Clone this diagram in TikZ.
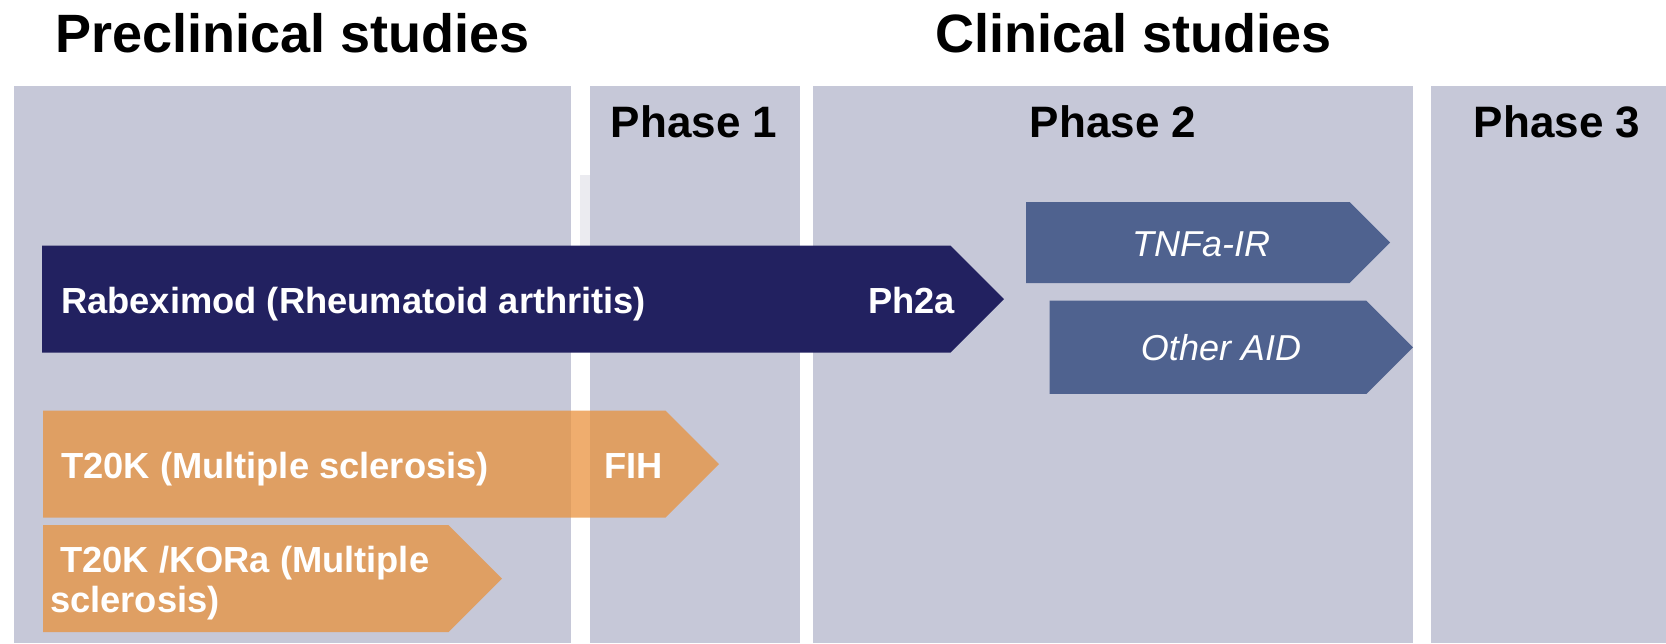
\documentclass[tikz,border=0pt]{standalone}
\usepackage{fontspec}
\setmainfont{Liberation Sans}
\usepackage{tikz}
\usetikzlibrary{positioning}
\usetikzlibrary{shapes.symbols}
\definecolor{ColorPanel}{RGB}{198,200,216}
\definecolor{ColorStrip}{RGB}{235,235,240}
\definecolor{ColorNavy}{RGB}{34,33,96}
\definecolor{ColorSteel}{RGB}{79,98,143}
\definecolor{ColorOrange}{RGB}{233,145,59}

\begin{document}
\begin{tikzpicture}[x=1pt, y=-1pt,
	panel/.style={rectangle, fill=ColorPanel, inner sep=0pt, outer sep=0pt, minimum height=557pt, anchor=north west},
	head/.style={anchor=base west, inner sep=0pt, font=\fontsize{54}{60}\selectfont\bfseries},
	phase/.style={anchor=base, inner sep=0pt, font=\fontsize{44}{50}\selectfont\bfseries},
	bar/.style={signal, signal to=east, signal pointer angle=90, inner sep=0pt, outer sep=0pt, minimum height=107pt, anchor=west},
	navy/.style={fill=ColorNavy},
	steel/.style={fill=ColorSteel},
	orange/.style={fill=ColorOrange, fill opacity=0.74},
	lab/.style={anchor=base west, inner sep=0pt, text=white, font=\fontsize{36.3}{40}\selectfont\bfseries},
	ital/.style={anchor=base, inner sep=0pt, text=white, font=\fontsize{36}{40}\selectfont\itshape}]
	\useasboundingbox (0,0) rectangle (1666,643);

	% Panels
	\node[panel, minimum width=557pt] (P0) at (13.5,86) {};
	\node[panel, minimum width=210pt, right = 19.5pt of P0] (P1) {};
	\node[panel, minimum width=600.3pt, right = 12.7pt of P1] (P2) {};
	\node[panel, minimum width=235pt, right = 18pt of P2] (P3) {};
	\fill[ColorStrip] (580,175) rectangle (590,300);

	% Titles
	\node[head] (pre) at (55,52) {Preclinical studies};
	\node[head] (cli) at (935,52) {Clinical studies};
	\node[phase] (ph1) at (694,137) {Phase 1};
	\node[phase] (ph2) at (1113,137) {Phase 2};
	\node[phase] (ph3) at (1557,137) {Phase 3};

	% Bars
	\node[bar, navy, minimum width=962pt] (rab) at (42,299.2) {};
	\node[bar, steel, minimum width=364pt, minimum height=81pt] (tnf) at (1026,242.5) {};
	\node[bar, steel, minimum width=363.5pt, minimum height=93.3pt] (aid) at (1049.5,347.3) {};
	\node[bar, orange, minimum width=676pt] (t20) at (43,464.2) {};
	\node[bar, orange, minimum width=459pt] (kor) at (43,578.5) {};

	% Labels
	\node[lab] (rabL) at (61,313) {Rabeximod (Rheumatoid arthritis)};
	\node[lab, anchor=base east] (rabR) at (955,313) {Ph2a};
	\node[ital] (tnfL) at (1201,256) {TNFa-IR};
	\node[ital] (aidL) at (1221,360) {Other AID};
	\node[lab] (t20L) at (61,478) {T20K (Multiple sclerosis)};
	\node[lab] (t20R) at (604,478) {FIH};
	\node[lab, align=left] (korL) at (50,612) {\hspace*{10pt}T20K /KORa (Multiple\\sclerosis)};
\end{tikzpicture}
\end{document}
